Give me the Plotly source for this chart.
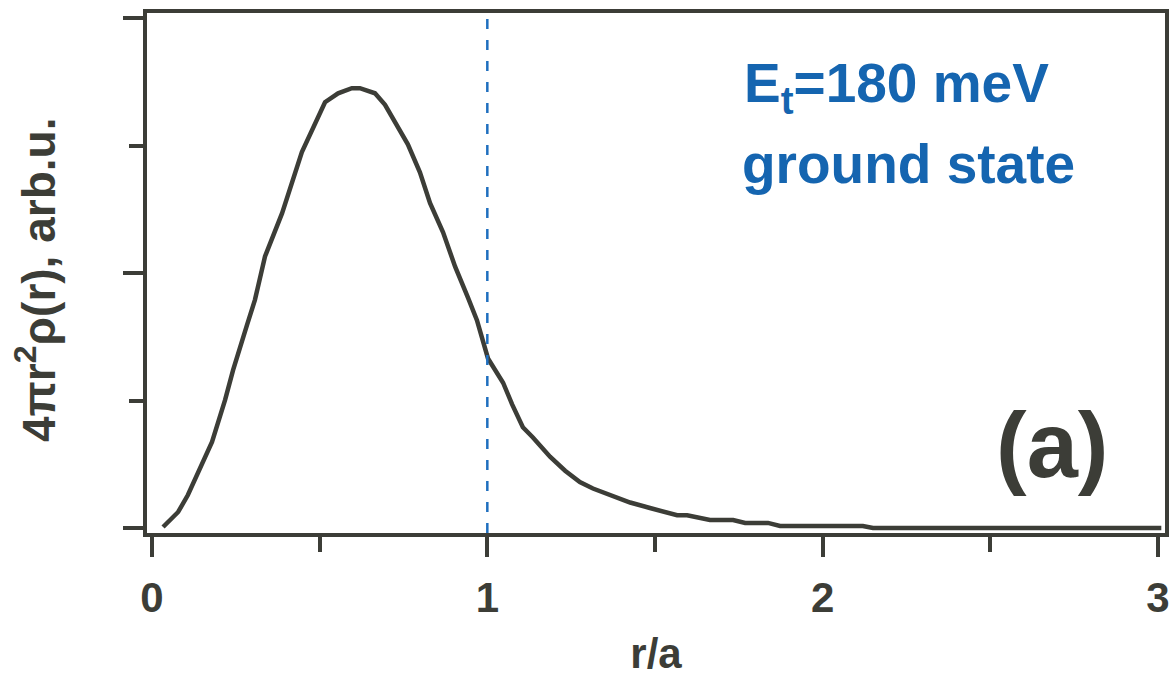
import plotly.graph_objects as go

# radial distribution
r_vals = [0.033, 0.078, 0.107, 0.143, 0.179, 0.218, 0.242, 0.283, 0.307, 0.337,
          0.388, 0.447, 0.483, 0.516, 0.555, 0.596, 0.620, 0.665, 0.695, 0.725,
          0.763, 0.799, 0.829, 0.868, 0.904, 0.942, 0.969, 1.002, 1.047, 1.074,
          1.106, 1.136, 1.187, 1.232, 1.276, 1.315, 1.357, 1.426, 1.485, 1.566,
          1.596, 1.664, 1.733, 1.769, 1.837, 1.873, 2.12, 2.15, 3.01]
rho_vals = [0.008, 0.126, 0.259, 0.47, 0.675, 1.005, 1.24, 1.59, 1.79, 2.13,
            2.47, 2.95, 3.16, 3.34, 3.41, 3.45, 3.45, 3.41, 3.32, 3.19,
            3.01, 2.79, 2.55, 2.32, 2.05, 1.81, 1.63, 1.33, 1.14, 0.97,
            0.79, 0.71, 0.56, 0.45, 0.36, 0.31, 0.27, 0.20, 0.157, 0.10,
            0.10, 0.063, 0.063, 0.04, 0.04, 0.016, 0.016, 0.0, 0.0]
x_ticks = [0, 1, 2, 3]
x_tick_labels = ["0", "1", "2", "3"]
boundary_r = 1.0

INK = "#3c3d37"
BLUE = "#1565b0"
FONT = "Liberation Sans"

W, H = 1175, 683
L, R, T, B = 147, 10, 13, 150
PW, PH = W - L - R, H - T - B


def px(xp):
    return (xp - L) / PW


def py(yp):
    return (H - B - yp) / PH


fig = go.Figure()
fig.add_trace(go.Scatter(x=r_vals, y=rho_vals, mode="lines",
                         line=dict(color=INK, width=4.5), showlegend=False,
                         hoverinfo="skip"))

fig.add_shape(type="line", x0=boundary_r, x1=boundary_r, xref="x",
              y0=0, y1=1, yref="paper",
              line=dict(color="#1f6fbf", width=2.5, dash="10px,11px"))

fig.update_layout(
    width=W, height=H,
    margin=dict(l=L, r=R, t=T, b=B, autoexpand=False),
    paper_bgcolor="white", plot_bgcolor="white",
    font=dict(family=FONT, color=INK),
    xaxis=dict(range=[-0.0149, 3.021], showgrid=False, zeroline=False,
               automargin=False,
               showline=True, linecolor=INK, linewidth=4, mirror=True,
               ticks="outside", ticklen=20, tickwidth=4, tickcolor=INK,
               tickvals=x_ticks, ticktext=x_tick_labels,
               tickfont=dict(size=42, family=FONT, weight="bold", color=INK),
               ticklabelstandoff=5,
               minor=dict(dtick=0.5, ticks="outside", ticklen=15, tickwidth=4,
                          tickcolor=INK, showgrid=False),
               title=dict(text="r/a", standoff=19,
                          font=dict(size=42, family=FONT, weight="bold", color=INK))),
    yaxis=dict(range=[-0.039, 4.04], showgrid=False, zeroline=False,
               automargin=False,
               showline=True, linecolor=INK, linewidth=4, mirror=True,
               ticks="outside", ticklen=20, tickwidth=4, tickcolor=INK,
               dtick=2, tick0=0, showticklabels=False,
               minor=dict(dtick=1, ticks="outside", ticklen=14, tickwidth=4,
                          tickcolor=INK, showgrid=False)),
)

fig.add_annotation(xref="paper", yref="paper", x=px(36), y=py(280),
                   text="4πr<sup>2</sup>ρ(r), arb.u.", textangle=-90,
                   showarrow=False, xanchor="center", yanchor="middle",
                   font=dict(size=46, family=FONT, weight="bold", color=INK))

fig.add_annotation(xref="paper", yref="paper", x=px(742), y=py(87),
                   text="E<sub>t</sub>=180 meV", showarrow=False,
                   xanchor="left", yanchor="middle",
                   font=dict(size=55, family=FONT, weight="bold", color=BLUE))
fig.add_annotation(xref="paper", yref="paper", x=px(740), y=py(164),
                   text="ground state", showarrow=False,
                   xanchor="left", yanchor="middle",
                   font=dict(size=55, family=FONT, weight="bold", color=BLUE))

fig.add_annotation(xref="paper", yref="paper", x=px(1052), y=py(445),
                   text="(a)", showarrow=False,
                   xanchor="center", yanchor="middle",
                   font=dict(size=92, family=FONT, weight="bold", color=INK))

fig.write_html("out.html",
               config={"displayModeBar": False},
               post_script="document.body.style.margin='0';"
                           "document.body.style.overflow='hidden';")
